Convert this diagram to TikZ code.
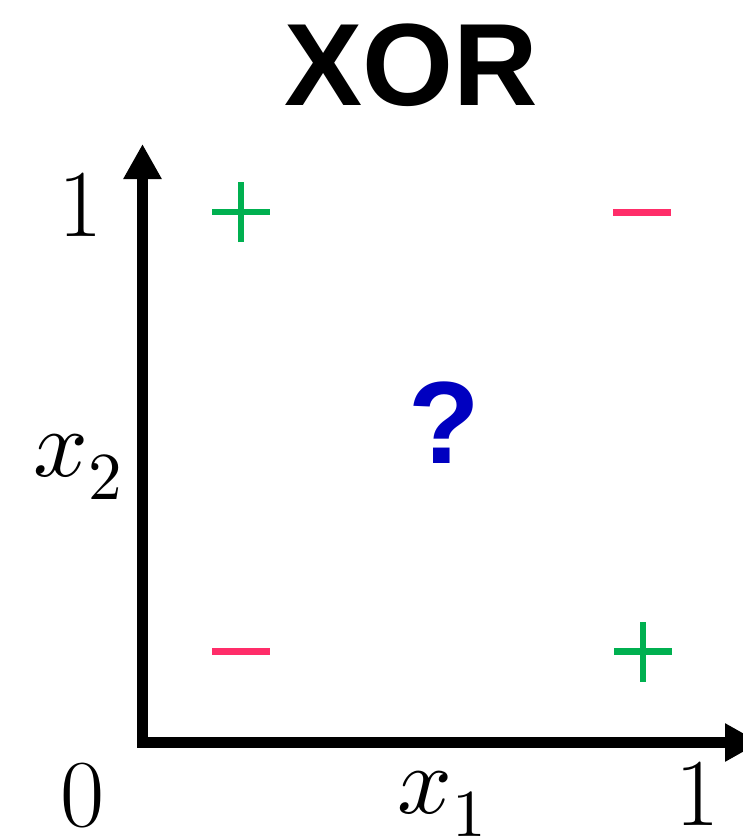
\documentclass[tikz,border=0pt]{standalone}
\usepackage{fontspec}
\usepackage{unicode-math}
\setmathfont{Latin Modern Math}
\setsansfont{Liberation Sans}
\usetikzlibrary{arrows.meta}
\definecolor{plusgreen}{RGB}{0,176,80}
\definecolor{minuspink}{RGB}{255,45,105}
\definecolor{qblue}{RGB}{0,0,192}
\tikzset{
  axisline/.style={line width=11pt, line join=miter,
    {Triangle[width=36pt,length=35pt]}-{Triangle[width=36pt,length=35pt]}},
  lbl/.style={inner sep=0pt, anchor=base, font=\fontsize{96}{96}\selectfont},
  bigsans/.style={inner sep=0pt, anchor=base, font=\fontsize{117}{117}\selectfont\sffamily\bfseries},
  plusmark/.style={draw=plusgreen, line width=6.5pt},
  minusmark/.style={draw=minuspink, line width=7pt}
}
\begin{document}
\begin{tikzpicture}[x=1pt,y=-1pt]
\clip (0,0) rectangle (743,839);
\fill[white] (0,0) rectangle (743,839);
% title
\node[bigsans] (title) at (411,105) {XOR};
% axes
\coordinate (origin) at (142.5,742.5);
\coordinate (ytip) at (142.5,144);
\coordinate (xtip) at (760,742.5);
\draw[axisline] (ytip) -- (origin) -- (xtip);
% labels
\node[lbl] (yone) at (80.5,236) {1};
\node[lbl, anchor=base west] (xtwo) at (33,476) {$x_2$};
\node[lbl] (zero) at (82.5,826) {0};
\node[lbl, anchor=base west] (xone) at (397,813) {$x_1$};
\node[lbl] (xoneval) at (698,825) {1};
% question mark
\node[bigsans, text=qblue] (q) at (444,463) {?};
% marks
\coordinate (p1) at (241,212);
\coordinate (m1) at (642,212.5);
\coordinate (m2) at (241,651.5);
\coordinate (p2) at (643,651.5);
\draw[plusmark] ([xshift=-29pt]p1) -- ([xshift=29pt]p1) ([yshift=-30pt]p1) -- ([yshift=30pt]p1);
\draw[plusmark] ([xshift=-29pt]p2) -- ([xshift=29pt]p2) ([yshift=-30pt]p2) -- ([yshift=30pt]p2);
\draw[minusmark] ([xshift=-29pt]m1) -- ([xshift=29pt]m1);
\draw[minusmark] ([xshift=-29pt]m2) -- ([xshift=29pt]m2);
\end{tikzpicture}
\end{document}
